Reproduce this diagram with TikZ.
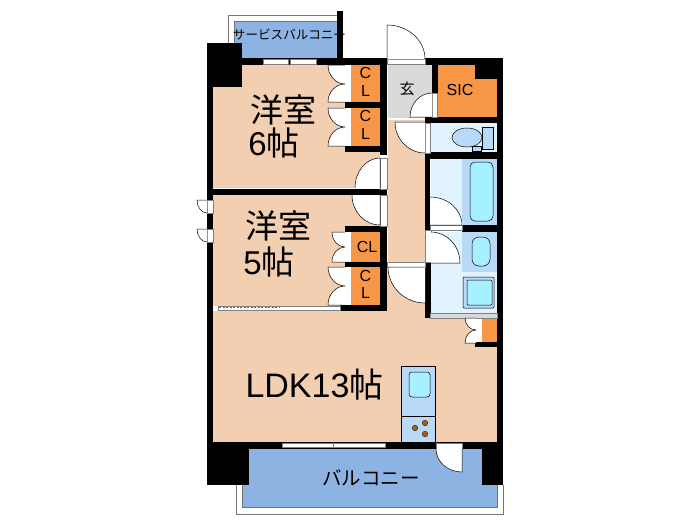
\documentclass[tikz,border=0pt]{standalone}
\usepackage{fontspec}
\setmainfont{Liberation Sans}
\newfontfamily\jpfont{Noto Sans CJK JP}
\usetikzlibrary{calc}
\definecolor{peach}{HTML}{F2CFB0}
\definecolor{closet}{HTML}{F79646}
\definecolor{balcony}{HTML}{8DB3E2}
\definecolor{wetroom}{HTML}{E0F3FF}
\definecolor{fixture}{HTML}{B9D9F8}
\definecolor{basin}{HTML}{A6F0FF}
\definecolor{entry}{HTML}{D9D9D9}
\definecolor{burner}{HTML}{B35A10}
% door swing: hinge, leaf tip, end of the arc
\newcommand{\swing}[3]{\path[swingdoor, draw=none] #1 -- #2 .. controls ($#2+0.552*#3-0.552*#1$) and ($#3+0.552*#2-0.552*#1$) .. #3 -- cycle;
    \draw[swingdoor, fill=none] #1 -- #2 .. controls ($#2+0.552*#3-0.552*#1$) and ($#3+0.552*#2-0.552*#1$) .. #3;}
\begin{document}
\begin{tikzpicture}[
            % Pixel coordinates of the plan
            x=1pt, y=-1pt,
            wall/.style={fill=black},
            room/.style={fill=peach},
            clos/.style={fill=closet},
            wet/.style={fill=wetroom},
            fix/.style={draw=black, line width=0.5pt, fill=fixture},
            bowl/.style={draw=black, line width=0.5pt, fill=basin, rounded corners=3pt},
            rail/.style={draw=black!55, line width=1pt},
            frame/.style={draw=black!50, line width=0.5pt, fill=white},
            swingdoor/.style={draw=black, line width=0.5pt, fill=white},
            big/.style={font=\fontsize{33}{33}\selectfont, inner sep=0pt},
            small/.style={font=\fontsize{16}{16}\selectfont, inner sep=0pt}
        ]
            \useasboundingbox (0,0) rectangle (700,525);

            % balconies
            \draw[rail] (228,43) -- (228,15) -- (338,15);
            \fill[balcony] (234,22) rectangle (338,58);
            \draw[black!55, line width=0.5pt] (234,43) -- (234,21) -- (338,21);
            \draw[rail] (236,485) -- (236,514) -- (503,514) -- (503,485);
            \fill[balcony] (249,449) rectangle (482,485);
            \fill[balcony] (242,485) rectangle (497,507);
            \draw[black!55, line width=0.7pt] (242,485) -- (242,507) -- (497,507) -- (497,485);

            % rooms
            \fill[room] (213,65) rectangle (345,188);
            \fill[room] (345,152) rectangle (380,188);
            \fill[room] (213,195) rectangle (345,306);
            \fill[room] (345,195) rectangle (380,226);
            \fill[room] (388,120) rectangle (425,267);
            \fill[room] (213,311) -- (387,311) -- (387,265) -- (425,265) -- (425,318) -- (497,318) -- (497,442) -- (213,442) -- cycle;
            \fill[fill=entry] (388,65) rectangle (432,118);
            \fill[wet] (431,123) rectangle (497,152);
            \fill[wet] (431,159) rectangle (497,225);
            \fill[wet] (430,232) rectangle (497,313);

            % closets
            \fill[clos] (351,65) rectangle (380,102);
            \fill[clos] (351,108) rectangle (380,146);
            \fill[clos] (351,232) rectangle (380,262);
            \fill[clos] (351,267) rectangle (380,305);
            \fill[clos] (438,65) rectangle (497,117);
            \fill[clos] (482,318) rectangle (497,342);
            \fill[white] (345,65) rectangle (351,146);
            \fill[white] (345,232) rectangle (351,305);
            \fill[white] (476,318) rectangle (482,343);

            % walls
            \fill[wall] (207,43) rectangle (242,87);
            \fill[wall] (207,43) rectangle (213,485);
            \fill[wall] (242,58) rectangle (503,65);
            \fill[wall] (497,58) rectangle (503,485);
            \fill[wall] (337,11) rectangle (343,60);
            \fill[wall] (475,65) rectangle (497,79);
            \fill[wall] (380,58) rectangle (387,155);
            \fill[wall] (345,102) rectangle (380,108);
            \fill[wall] (345,146) rectangle (387,152);
            \fill[wall] (213,189) rectangle (387,195);
            \fill[wall] (345,226) rectangle (387,232);
            \fill[wall] (345,262) rectangle (380,267);
            \fill[wall] (380,226) rectangle (387,311);
            \fill[wall] (340,305) rectangle (387,311);
            \fill[wall] (432,65) rectangle (438,117);
            \fill[wall] (425,117) rectangle (503,123);
            \fill[wall] (425,117) rectangle (430,230);
            \fill[wall] (425,152) rectangle (503,159);
            \fill[wall] (462,225) rectangle (503,232);
            \fill[wall] (425,262) rectangle (431,318);
            \fill[wall] (475,342) rectangle (497,347);
            \fill[wall] (213,442) rectangle (503,449);
            \fill[wall] (207,442) rectangle (249,485);
            \fill[wall] (482,442) rectangle (503,485);

            % windows and door frames
            \foreach \xa/\xb in {263/288, 290/316} {
                \draw[frame] (\xa,59.5) rectangle (\xb,64);
            }
            \foreach \xa/\xb in {282/333, 333/385} {
                \draw[frame] (\xa,443.5) rectangle (\xb,447.5);
            }
            \foreach \ya/\yb in {200/213, 229/242} {
                \draw[frame] (207,\ya) rectangle (213,\yb);
                \swing{(207,\ya)}{(197,\ya)}{(207,\yb)}
            }
            \draw[frame] (218,306.5) rectangle (340,310.5);
            \draw[black!60, dashed, line width=1.2pt, dash pattern=on 2pt off 1.5pt] (219,307.5) -- (279,307.5);
            \draw[frame] (387,59) rectangle (425,64);
            \draw[frame] (387,262) rectangle (425,267);
            \draw[frame] (425,123) rectangle (430,153);
            \draw[frame] (425,230) rectangle (431,262);
            \draw[frame] (380,158) rectangle (387,189);
            \draw[frame] (380,195) rectangle (387,226);
            \draw[frame] (432,93) rectangle (437,117);
            \draw[frame] (430,225) rectangle (462,230);
            \draw[frame] (436,443) rectangle (462,449);
            \draw[frame, fill=black!15] (430,313) rectangle (497,318);

            % swing doors
            \swing{(387,59)}{(387,25)}{(425,59)}
            \swing{(380,188)}{(380,158)}{(355,188)}
            \swing{(380,195)}{(380,225)}{(352,195)}
            \swing{(425,122)}{(395,122)}{(425,153)}
            \swing{(432,117)}{(410,117)}{(432,93)}
            \swing{(425,267)}{(388,267)}{(425,303)}
            \swing{(430,225)}{(462,225)}{(430,197)}
            \swing{(431,263)}{(460,263)}{(431,232)}
            \swing{(462,449)}{(462,472)}{(436,449)}

            % folding doors
            \foreach \xt/\ya/\ym/\yb in {328/65/84/102, 328/108/127/146, 332/232/247/262, 328/267/286/305, 465/318/330/343} {
                \pgfmathsetmacro{\xw}{\xt<400 ? 345 : 476}
                \swing{(\xw,\ya)}{(\xt,\ya)}{(\xw,\ym)}
                \swing{(\xw,\yb)}{(\xt,\yb)}{(\xw,\ym)}
            }

            % bath and washroom
            \fill[fix, draw=none] (462,159) rectangle (497,225);
            \draw[bowl, rounded corners=5pt] (470,162) rectangle (493,221);
            \fill[fix, draw=none] (462,232) rectangle (497,272);
            \draw[bowl, rounded corners=7pt] (472,237) rectangle (490,266);
            \draw[fix, rounded corners=1pt] (463,277) rectangle (494,308);
            \draw[bowl, rounded corners=1pt] (467,280) rectangle (492,305);

            % toilet
            \draw[fix] (472,146) rectangle (481,151);
            \draw[fix] (467,137.5) ellipse (15 and 9.5);
            \draw[fix] (482,127) rectangle (493,149);

            % kitchen
            \draw[fix, line width=0.7pt] (401,366) rectangle (435,442);
            \draw[fix, line width=0.7pt] (401,416) rectangle (435,442);
            \draw[bowl] (409,372) rectangle (430,397);
            \foreach \bx/\by in {415/428, 425/423, 425/434} {
                \draw[fill=burner, line width=0.3pt] (\bx,\by) circle (2.8);
            }

            % labels
            \node[big, anchor=center] (room6) at (283,110) {\jpfont 洋室};
            \node[big, anchor=center] (size6) at (274,143) {6{\jpfont 帖}};
            \node[big, anchor=center] (room5) at (278,226) {\jpfont 洋室};
            \node[big, anchor=center] (size5) at (269,262) {5{\jpfont 帖}};
            \node[font=\fontsize{34}{34}\selectfont, inner sep=0pt] (ldk) at (314.5,385) {LDK13{\jpfont 帖}};
            \node[font=\fontsize{19.5}{19.5}\jpfont, inner sep=0pt] (balc) at (371,478) {バルコニー};
            \node[font=\fontsize{12.6}{12.6}\jpfont, inner sep=0pt] (serv) at (289.5,35) {サービスバルコニー};
            \node[font=\fontsize{15}{15}\jpfont, inner sep=0pt] (genkan) at (407,89) {玄};
            \node[small] (sic) at (460,90) {SIC};
            \foreach \yc/\yl/\nm in {73/91/a, 116/134/b, 276/293/c} {
                \node[small] (c\nm) at (365.5,\yc) {C};
                \node[small] (l\nm) at (365.5,\yl) {L};
            }
            \node[small] (cld) at (367,247) {CL};
        \end{tikzpicture}
\end{document}
